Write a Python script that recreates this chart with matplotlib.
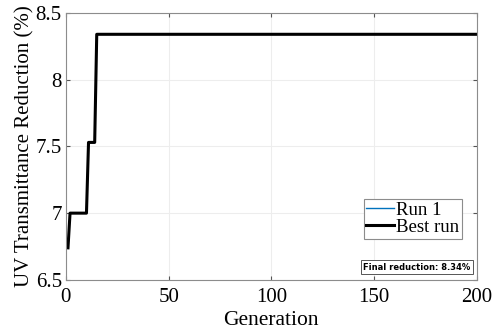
import numpy as np
import matplotlib
matplotlib.use('Agg')
import matplotlib.pyplot as plt

# best fitness per generation (run-lengths of each level)
levels = [6.74, 7.00, 7.53, 8.34]
level_counts = [1, 9, 4, 186]
generations = np.arange(1, 201)
best_run = np.repeat(levels, level_counts)
run1 = best_run.copy()
final_reduction = 8.34

plt.rcParams['font.family'] = ['Liberation Serif', 'DejaVu Serif']

fig = plt.figure(figsize=(4.92, 3.32), dpi=100)
ax = fig.add_axes([0.134, 0.157, 0.835, 0.804])

ax.plot(generations, run1, color=(0, 0.447, 0.741), linewidth=1.0, label='Run 1')
ax.plot(generations, best_run, color='black', linewidth=2.2, label='Best run')

ax.set_xlim(0, 200)
ax.set_ylim(6.5, 8.5)
ax.set_xticks([0, 50, 100, 150, 200])
ax.set_yticks([6.5, 7, 7.5, 8, 8.5])
ax.set_yticklabels(['6.5', '7', '7.5', '8', '8.5'])
ax.tick_params(direction='in', labelsize=15, top=True, right=True,
               color='#555555', length=3, pad=3)
ax.tick_params(axis='x', pad=6)
ax.grid(True, color='#ededed', linewidth=0.8)
for s in ax.spines.values():
    s.set_color('#8c8c8c')
    s.set_linewidth(0.8)

ax.set_xlabel('Generation', fontsize=15.5, labelpad=3)
ax.set_ylabel('UV Transmittance Reduction (%)', fontsize=15, labelpad=1)

leg = ax.legend(loc='lower right', bbox_to_anchor=(0.965, 0.155), fontsize=13.5,
                fancybox=False, framealpha=1, edgecolor='#8c8c8c',
                handlelength=1.45, handletextpad=0.15, borderpad=0.15,
                labelspacing=0.0, borderaxespad=0)
leg.get_frame().set_linewidth(0.8)

ax.text(0.985, 0.03, 'Final reduction: %.2f%%' % final_reduction,
        transform=ax.transAxes, ha='right', va='bottom', fontsize=6,
        fontweight='bold', family='DejaVu Sans',
        bbox=dict(boxstyle='square,pad=0.3', facecolor='white', edgecolor='#555555', linewidth=0.7))

fig.savefig('out.png', dpi=100)
